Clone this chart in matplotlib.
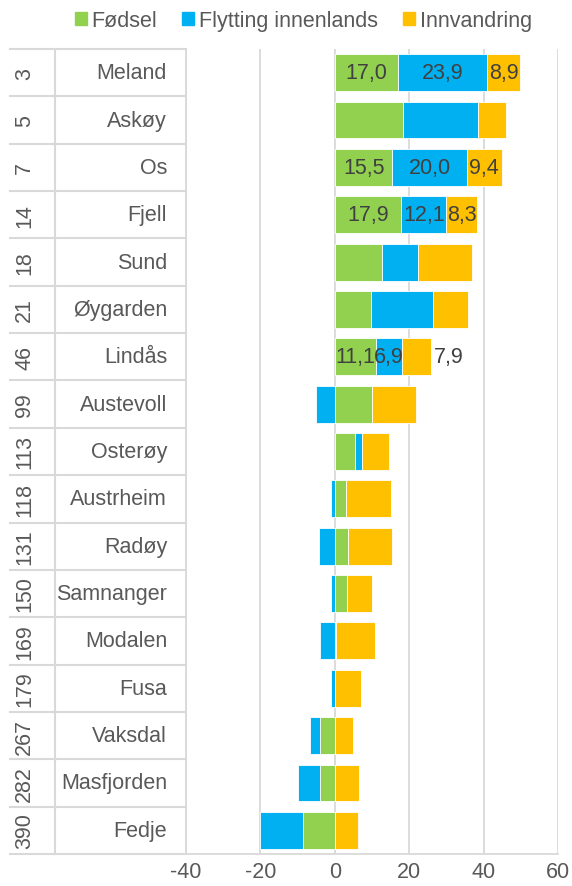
import numpy as np
import matplotlib
matplotlib.use("Agg")
from matplotlib import pyplot as plt
from matplotlib.patches import Patch

plt.rcParams['font.family'] = ['Liberation Sans', 'DejaVu Sans']
plt.rcParams['axes.unicode_minus'] = False

ranks = ["3", "5", "7", "14", "18", "21", "46", "99", "113", "118", "131", "150", "169", "179", "267", "282", "390"]
names = ["Meland", "Askøy", "Os", "Fjell", "Sund", "Øygarden", "Lindås", "Austevoll", "Osterøy",
         "Austrheim", "Radøy", "Samnanger", "Modalen", "Fusa", "Vaksdal", "Masfjorden", "Fedje"]
fodsel = [17.0, 18.3, 15.5, 17.9, 12.6, 9.7, 11.1, 10.1, 5.5, 2.9, 3.5, 3.2, 0.2, 0.1, -4.0, -4.0, -8.6]
flytting = [23.9, 20.3, 20.0, 12.1, 9.7, 16.6, 6.9, -5.0, 1.9, -1.0, -4.3, -1.0, -4.0, -1.1, -2.7, -5.9, -11.4]
innvandring = [8.9, 7.4, 9.4, 8.3, 14.5, 9.5, 7.9, 11.8, 7.1, 12.2, 11.9, 6.7, 10.6, 7.0, 4.9, 6.6, 6.3]
labelled = ["Meland", "Os", "Fjell", "Lindås"]

series = [("Fødsel", fodsel, "#92D050"),
          ("Flytting innenlands", flytting, "#00B0F0"),
          ("Innvandring", innvandring, "#FFC000")]

fs = 15.5
fig = plt.figure(figsize=(5.72, 8.87), dpi=100)
ax = fig.add_axes([186/572, 32/887, 372/572, 805/887])

y = np.arange(len(names))
pos = np.zeros(len(names))
neg = np.zeros(len(names))
txt = "#404040"
for sname, vals, col in series:
    vals = np.array(vals)
    left = np.where(vals >= 0, pos, neg)
    ax.barh(y, vals, left=left, height=0.78, color=col, edgecolor="white", linewidth=0.6, zorder=3)
    for i, n in enumerate(names):
        if n in labelled:
            lab = f"{vals[i]:.1f}".replace(".", ",")
            if n == "Lindås" and sname == "Innvandring":
                ax.text(left[i] + vals[i] + 0.8, i, lab, ha="left", va="center", fontsize=fs, color=txt, zorder=4)
            else:
                ax.text(left[i] + vals[i] / 2, i, lab, ha="center", va="center", fontsize=fs, color=txt, zorder=4)
    pos = pos + np.where(vals >= 0, vals, 0)
    neg = neg + np.where(vals < 0, vals, 0)

ax.set_xlim(-40, 60)
ax.set_ylim(len(names) - 0.5, -0.5)
ax.set_xticks([-40, -20, 0, 20, 40, 60])
ax.set_yticks([])
ax.tick_params(axis="x", length=0, labelsize=fs, labelcolor="#595959", pad=5)
ax.grid(axis="x", color="#D9D9D9", linewidth=1.3, zorder=0)
for s in ["top", "right"]:
    ax.spines[s].set_visible(False)
for s in ["left", "bottom"]:
    ax.spines[s].set_color("#D9D9D9")
    ax.spines[s].set_linewidth(1.3)

# table on the left
tr = ax.get_yaxis_transform()
gc = "#D9D9D9"
for b in np.arange(len(names) + 1) - 0.5:
    ax.plot([-0.473, 0], [b, b], color=gc, lw=1.5, transform=tr, clip_on=False)
ax.plot([-0.352, -0.352], [-0.5, len(names) - 0.5], color=gc, lw=1.5, transform=tr, clip_on=False)
for i in range(len(names)):
    ax.text(-0.434, i, ranks[i], rotation=90, ha="center", va="center", fontsize=fs,
            color="#595959", transform=tr)
    ax.text(-0.051, i, names[i], ha="right", va="center", fontsize=fs, color="#595959", transform=tr)

handles = [Patch(color=c) for _, _, c in series]
fig.legend(handles, [s for s, _, _ in series], loc="center", bbox_to_anchor=(0.53, 0.976), ncol=3,
           frameon=False, fontsize=fs, handlelength=0.55, handleheight=0.55, handletextpad=0.2,
           columnspacing=1.2, labelcolor="#595959")

fig.savefig("out.png", dpi=100)
